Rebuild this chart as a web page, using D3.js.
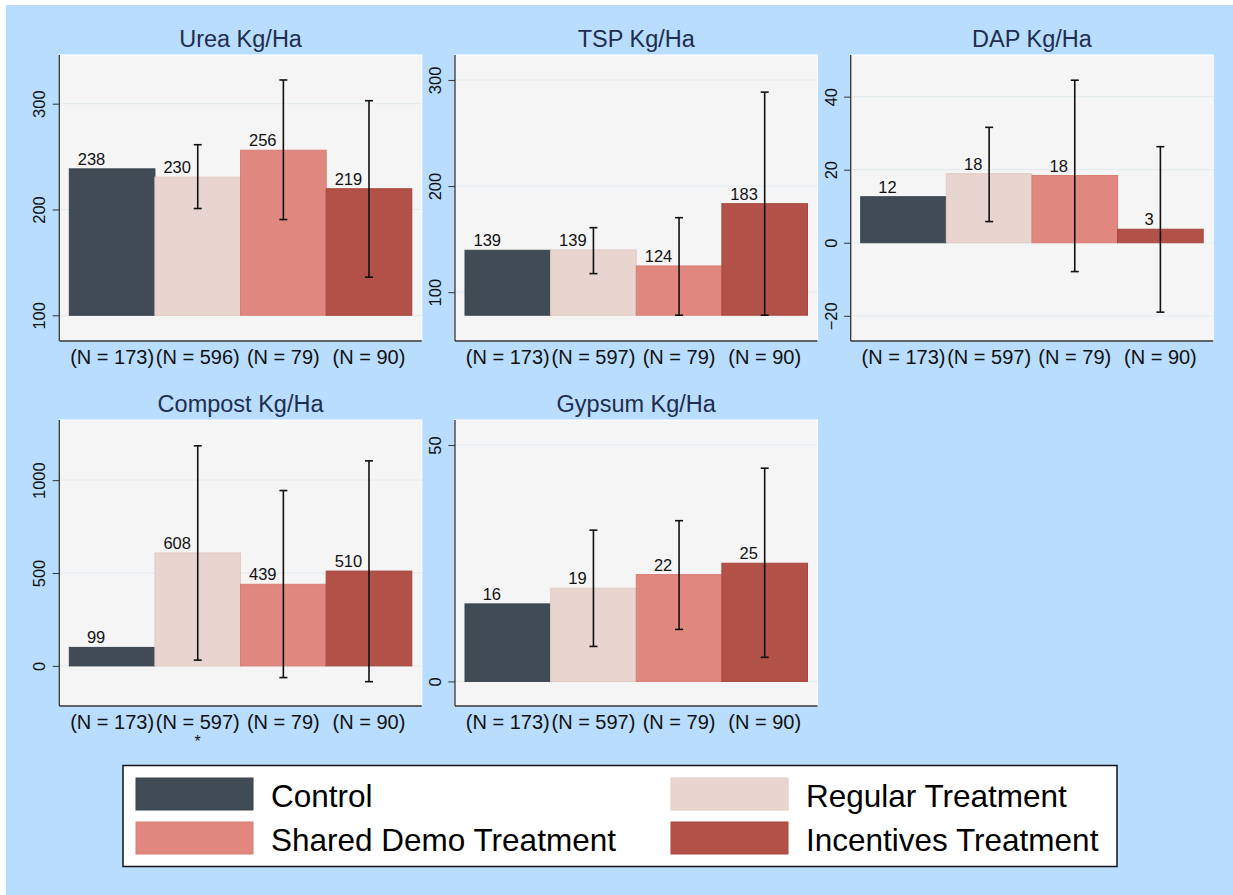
<!DOCTYPE html>
<html>
<head>
<meta charset="utf-8">
<script src="https://cdn.jsdelivr.net/npm/d3@7"></script>
<style>
  html, body { margin: 0; padding: 0; background: #ffffff; }
  svg { display: block; }
  text { font-family: "Liberation Sans", Arial, Helvetica, sans-serif; }
</style>
</head>
<body>
<svg id="chart" width="1233" height="895"></svg>
<script>
// ---------------- data ----------------
const groups = ["Control", "Regular Treatment", "Shared Demo Treatment", "Incentives Treatment"];
const groupColors = ["#404b55", "#e8d5cf", "#e0887f", "#b25148"];
const groupStrokes = ["#3a444d", "#e2cac3", "#d97d74", "#a8463d"];

const panelTitles = ["Urea Kg/Ha", "TSP Kg/Ha", "DAP Kg/Ha", "Compost Kg/Ha", "Gypsum Kg/Ha"];

const ureaMeans = [238.4, 230.6, 256.0, 219.6];
const ureaLow = [null, 200.9, 190.5, 136.0];
const ureaHigh = [null, 261.2, 322.4, 302.8];

const tspMeans = [139.5, 139.8, 124.7, 183.4];
const tspLow = [null, 117.5, 78.3, 78.3];
const tspHigh = [null, 160.8, 170.2, 288.5];

const dapMeans = [12.6, 18.9, 18.4, 3.7];
const dapLow = [null, 5.8, -7.9, -19.0];
const dapHigh = [null, 31.6, 44.5, 26.3];

const compostMeans = [99.4, 608.2, 439.3, 510.4];
const compostLow = [null, 31, -63, -85];
const compostHigh = [null, 1185, 944, 1104];

const gypsumMeans = [16.4, 19.7, 22.6, 25.0];
const gypsumLow = [null, 7.4, 11.0, 5.1];
const gypsumHigh = [null, 32.0, 34.0, 45.1];

const ureaN = ["(N = 173)", "(N = 596)", "(N = 79)", "(N = 90)"];
const otherN = ["(N = 173)", "(N = 597)", "(N = 79)", "(N = 90)"];
const compostStars = ["", "*", "", ""];

const ureaDomain = [75.7, 346], ureaTicks = [100, 200, 300], ureaBase = 100;
const tspDomain = [54, 323.5], tspTicks = [100, 200, 300], tspBase = 78.3;
const dapDomain = [-26.9, 51.4], dapTicks = [-20, 0, 20, 40], dapBase = 0;
const compostDomain = [-216, 1324], compostTicks = [0, 500, 1000], compostBase = 0;
const gypsumDomain = [-5.2, 55.3], gypsumTicks = [0, 50], gypsumBase = 0;

// ---------------- layout ----------------
const svg = d3.select("#chart");
svg.append("rect").attr("x", 6).attr("y", 5).attr("width", 1233 - 6).attr("height", 895 - 5)
  .attr("fill", "#b8ddfe");

const colLeft = [59.3, 455, 850.7];
const rowTop = [55, 420];
const plotW = 362.5, plotH = 286;

const panels = [
  {title: panelTitles[0], means: ureaMeans, low: ureaLow, high: ureaHigh, n: ureaN, domain: ureaDomain, ticks: ureaTicks, base: ureaBase, col: 0, row: 0},
  {title: panelTitles[1], means: tspMeans, low: tspLow, high: tspHigh, n: otherN, domain: tspDomain, ticks: tspTicks, base: tspBase, col: 1, row: 0},
  {title: panelTitles[2], means: dapMeans, low: dapLow, high: dapHigh, n: otherN, domain: dapDomain, ticks: dapTicks, base: dapBase, col: 2, row: 0},
  {title: panelTitles[3], means: compostMeans, low: compostLow, high: compostHigh, n: otherN, stars: compostStars, domain: compostDomain, ticks: compostTicks, base: compostBase, col: 0, row: 1},
  {title: panelTitles[4], means: gypsumMeans, low: gypsumLow, high: gypsumHigh, n: otherN, domain: gypsumDomain, ticks: gypsumTicks, base: gypsumBase, col: 1, row: 1}
];

panels.forEach(p => {
  const left = colLeft[p.col], top = rowTop[p.row];
  const g = svg.append("g").attr("transform", `translate(${left},${top})`);
  const x = d3.scaleBand().domain(d3.range(groups.length)).range([10, plotW - 10]).paddingInner(0).paddingOuter(0);
  const y = d3.scaleLinear().domain(p.domain).range([plotH, 0]);

  // plot region
  g.append("rect").attr("x", 0).attr("y", 0).attr("width", plotW).attr("height", plotH)
    .attr("fill", "#f5f5f5").attr("stroke", "#ffffff").attr("stroke-width", 1);

  // gridlines
  g.selectAll(".grid").data(p.ticks).enter().append("line")
    .attr("x1", 0).attr("x2", plotW)
    .attr("y1", d => y(d)).attr("y2", d => y(d))
    .attr("stroke", "#e4ecf0").attr("stroke-width", 1.2);

  // title
  g.append("text").attr("x", plotW / 2).attr("y", -8.3).attr("text-anchor", "middle")
    .attr("font-size", "23.5px").attr("fill", "#1f2d4e").text(p.title);

  // bars
  const bw = x.bandwidth();
  g.selectAll(".bar").data(p.means).enter().append("rect")
    .attr("x", (d, i) => x(i)).attr("width", bw)
    .attr("y", d => Math.min(y(d), y(p.base)))
    .attr("height", d => Math.abs(y(p.base) - y(d)))
    .attr("fill", (d, i) => groupColors[i])
    .attr("stroke", (d, i) => groupStrokes[i]).attr("stroke-width", 1);

  // error bars
  p.means.forEach((m, i) => {
    if (p.low[i] == null) return;
    const cx = x(i) + bw / 2;
    const y1 = y(p.high[i]), y2 = y(p.low[i]);
    g.append("line").attr("x1", cx).attr("x2", cx).attr("y1", y1).attr("y2", y2)
      .attr("stroke", "#111").attr("stroke-width", 1.6);
    [y1, y2].forEach(yy => g.append("line").attr("x1", cx - 4).attr("x2", cx + 4)
      .attr("y1", yy).attr("y2", yy).attr("stroke", "#111").attr("stroke-width", 1.6));
  });

  // value labels (Stata %9.0f, right-aligned)
  g.selectAll(".vlab").data(p.means).enter().append("text")
    .attr("x", (d, i) => x(i) + 36)
    .attr("y", d => y(d) - 4)
    .attr("text-anchor", "end").attr("font-size", "16.5px").attr("fill", "#111")
    .text(d => Math.floor(d));

  // y axis
  const yAxis = d3.axisLeft(y).tickValues(p.ticks).tickSize(6.6).tickPadding(7).tickFormat(d3.format("d"));
  const ax = g.append("g").call(yAxis);
  ax.select(".domain").remove();
  ax.selectAll(".tick line").attr("stroke", "#333");
  ax.selectAll(".tick text")
    .attr("font-size", "16.5px").attr("fill", "#111")
    .attr("font-family", "'Liberation Sans', Arial, sans-serif")
    .attr("text-anchor", "middle")
    .attr("dy", 0).attr("x", 0).attr("y", 0)
    .attr("transform", "translate(-14,0) rotate(-90)");

  // axis lines
  g.append("line").attr("x1", 0).attr("x2", 0).attr("y1", 0).attr("y2", plotH)
    .attr("stroke", "#333").attr("stroke-width", 1.3);
  g.append("line").attr("x1", 0).attr("x2", plotW).attr("y1", plotH).attr("y2", plotH)
    .attr("stroke", "#333").attr("stroke-width", 1.3);

  // N labels
  g.selectAll(".nlab").data(p.n).enter().append("text")
    .attr("x", (d, i) => x(i) + bw / 2).attr("y", plotH + 22.5)
    .attr("text-anchor", "middle").attr("font-size", "20px").attr("fill", "#111")
    .text(d => d);
  if (p.stars) {
    g.selectAll(".star").data(p.stars).enter().append("text")
      .attr("x", (d, i) => x(i) + bw / 2).attr("y", plotH + 41)
      .attr("text-anchor", "middle").attr("font-size", "16px").attr("fill", "#111")
      .text(d => d);
  }
});

// ---------------- legend ----------------
const lg = svg.append("g");
lg.append("rect").attr("x", 123).attr("y", 765.5).attr("width", 994).attr("height", 101)
  .attr("fill", "#ffffff").attr("stroke", "#111").attr("stroke-width", 1.5);
const legendPos = [
  {x: 136, y: 778}, {x: 671, y: 778}, {x: 136, y: 822}, {x: 671, y: 822}
];
groups.forEach((name, i) => {
  const p = legendPos[i];
  lg.append("rect").attr("x", p.x).attr("y", p.y).attr("width", 117).attr("height", 32)
    .attr("fill", groupColors[i]).attr("stroke", groupStrokes[i]).attr("stroke-width", 1);
  lg.append("text").attr("x", p.x + 135).attr("y", p.y + 28.5)
    .attr("font-size", "31.5px").attr("fill", "#000").text(name);
});
</script>
</body>
</html>
